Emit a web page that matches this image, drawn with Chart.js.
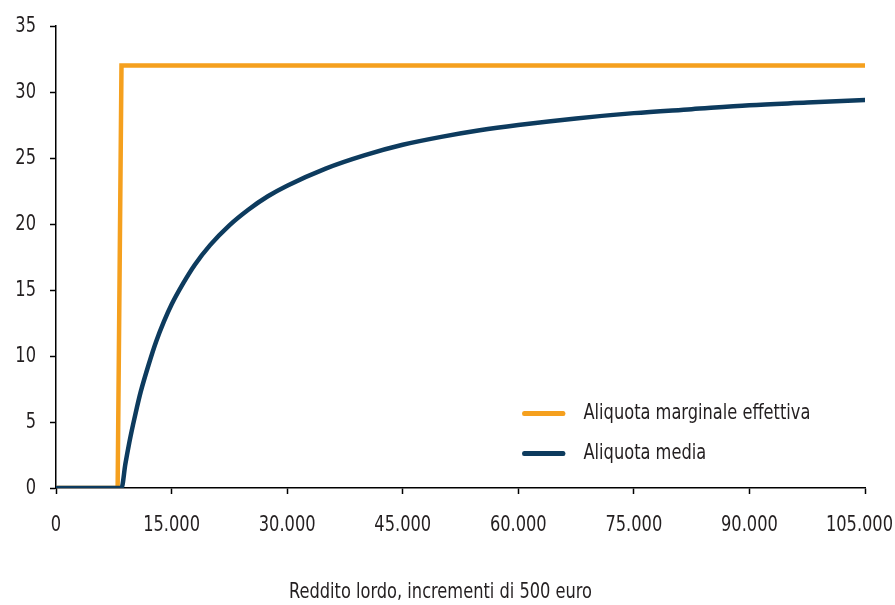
<!DOCTYPE html>
<html>
<head>
<meta charset="utf-8">
<script src="https://cdn.jsdelivr.net/npm/chart.js@4"></script>
<style>
  html, body { margin: 0; padding: 0; background: #fff; }
  #wrap { position: relative; width: 895px; height: 605px; overflow: hidden; }
  .txt { position: absolute; font-family: 'Liberation Sans Narrow', 'DejaVu Sans Condensed', sans-serif; font-size: 22px; color: #231f20; white-space: nowrap; transform-origin: left center; transform: scaleX(0.82); }
  .legend { left: 522px; }
  .legend span.sw { display: inline-block; width: 53px; height: 5px; border-radius: 3px; vertical-align: middle; margin-right: 22px; }
  #xtitle { top: 578px; left: 289px; }
</style>
</head>
<body>
<div id="wrap">
  <canvas id="chart" width="895" height="605"></canvas>
  <div class="txt legend" style="top:399px"><span class="sw" style="background:#f5a01e"></span>Aliquota marginale effettiva</div>
  <div class="txt legend" style="top:439px"><span class="sw" style="background:#0d3b5e"></span>Aliquota media</div>
  <div class="txt" id="xtitle">Reddito lordo, incrementi di 500 euro</div>
</div>
<script>
const FONT = "'Liberation Sans Narrow', 'DejaVu Sans Condensed', sans-serif";

// reddito lordo (euro) e aliquote
const incomeMarginal = [0, 8000, 8500, 105000];
const rateMarginal = [0, 0, 32, 32];

const incomeAverage = [0, 8500, 9000, 9500, 10000, 10500, 11000, 12000, 13000, 14000, 15000, 16500, 18000, 20000, 22500, 25000, 27500, 30000, 35000, 40000, 45000, 50000, 55000, 60000, 67500, 75000, 82500, 90000, 97500, 105000];
const rateAverage = [0, 0, 1.8, 3.4, 4.8, 6.1, 7.3, 9.3, 11.1, 12.6, 13.9, 15.5, 16.9, 18.4, 19.9, 21.1, 22.1, 22.9, 24.2, 25.2, 26.0, 26.6, 27.1, 27.5, 28.0, 28.4, 28.7, 29.0, 29.2, 29.4];

function toPoints(xs, ys) {
  return xs.map((x, i) => ({ x: x, y: ys[i] }));
}

function itNumber(v) {
  return String(v).replace(/\B(?=(\d{3})+(?!\d))/g, '.');
}

// tick labels drawn narrow, like the condensed font of the original
const narrowLabels = {
  id: 'narrowLabels',
  afterDraw(chart) {
    const c = chart.ctx;
    const sx = 0.82;
    c.save();
    c.font = '22px ' + FONT;
    c.fillStyle = '#231f20';
    c.textBaseline = 'middle';

    const xs = chart.scales.x;
    const yBase = xs.top + 37;
    xs.ticks.forEach(t => {
      const label = itNumber(t.value);
      const w = c.measureText(label).width * sx;
      let left = xs.getPixelForValue(t.value) - w / 2;
      if (left + w > chart.width - 2) left = chart.width - 2 - w;
      c.save();
      c.translate(left, yBase);
      c.scale(sx, 1);
      c.textAlign = 'left';
      c.fillText(label, 0, 0);
      c.restore();
    });

    const ys = chart.scales.y;
    ys.ticks.forEach(t => {
      const label = String(t.value);
      c.save();
      c.translate(ys.right - 20, ys.getPixelForValue(t.value));
      c.scale(sx, 1);
      c.textAlign = 'right';
      c.fillText(label, 0, 0);
      c.restore();
    });
    c.restore();
  }
};

const ctx = document.getElementById('chart').getContext('2d');
new Chart(ctx, {
  type: 'line',
  data: {
    datasets: [
      {
        label: 'Aliquota media',
        data: toPoints(incomeAverage, rateAverage),
        borderColor: '#0d3b5e',
        borderWidth: 4.5,
        pointRadius: 0,
        cubicInterpolationMode: 'monotone',
        borderCapStyle: 'round',
        order: 0
      },
      {
        label: 'Aliquota marginale effettiva',
        data: toPoints(incomeMarginal, rateMarginal),
        borderColor: '#f5a01e',
        borderWidth: 4.5,
        pointRadius: 0,
        tension: 0,
        borderCapStyle: 'round',
        order: 1
      }
    ]
  },
  options: {
    responsive: false,
    animation: false,
    layout: { padding: { left: 0, right: 30, top: 26, bottom: 0 } },
    plugins: { legend: { display: false }, tooltip: { enabled: false } },
    scales: {
      x: {
        type: 'linear',
        min: 0,
        max: 105000,
        grid: { drawOnChartArea: false, color: '#000', tickLength: 6, tickWidth: 1.5 },
        border: { color: '#000', width: 1.5 },
        ticks: { stepSize: 15000, display: false },
        afterFit: s => { s.height = 117; }
      },
      y: {
        min: 0,
        max: 35,
        grid: { drawOnChartArea: false, color: '#000', tickLength: 6, tickWidth: 1.5 },
        border: { color: '#000', width: 1.5 },
        ticks: { stepSize: 5, display: false },
        afterFit: s => { s.width = 56; }
      }
    }
  },
  plugins: [narrowLabels]
});
</script>
</body>
</html>
